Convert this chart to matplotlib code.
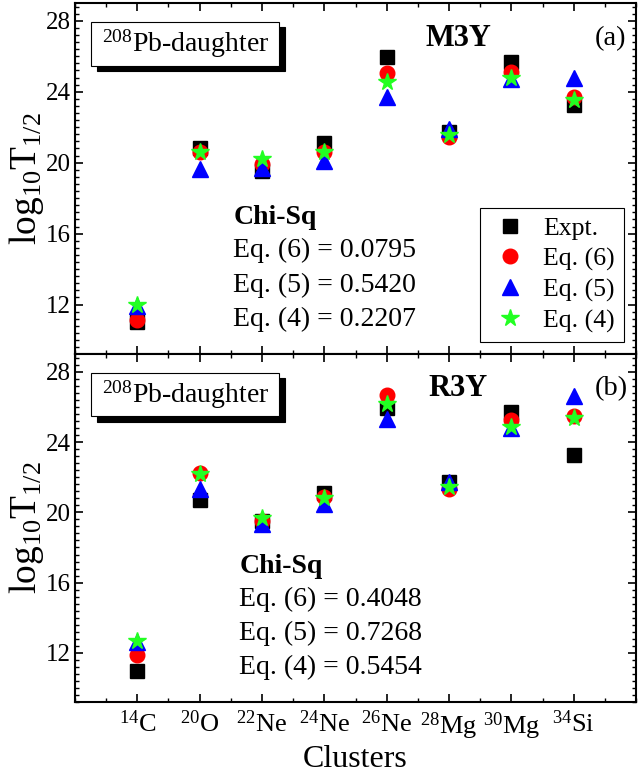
import matplotlib
matplotlib.use("Agg")
from matplotlib import pyplot, transforms
from matplotlib.patches import Rectangle
from matplotlib.ticker import MultipleLocator, FixedLocator

pyplot.rcParams["font.family"] = ["Liberation Serif", "DejaVu Serif"]
pyplot.rcParams["mathtext.fontset"] = "custom"
pyplot.rcParams["mathtext.rm"] = "Liberation Serif"
pyplot.rcParams["mathtext.it"] = "Liberation Serif:italic"
pyplot.rcParams["mathtext.bf"] = "Liberation Serif:bold"

clusters = [r"$^{14}$C", r"$^{20}$O", r"$^{22}$Ne", r"$^{24}$Ne",
            r"$^{26}$Ne", r"$^{28}$Mg", r"$^{30}$Mg", r"$^{34}$Si"]

# M3Y panel
m3y_expt = [11.0, 20.8, 19.55, 21.1, 25.95, 21.75, 25.7, 23.25]
m3y_eq6 = [11.15, 20.6, 19.9, 20.6, 25.05, 21.45, 25.1, 23.7]
m3y_eq5 = [11.9, 19.65, 19.7, 20.1, 23.7, 21.9, 24.7, 24.8]
m3y_eq4 = [11.95, 20.6, 20.2, 20.6, 24.55, 21.55, 24.75, 23.55]
m3y_chi = ["0.0795", "0.5420", "0.2207"]

# R3Y panel
r3y_expt = [11.0, 20.7, 19.5, 21.1, 25.95, 21.75, 25.7, 23.25]
r3y_eq6 = [11.9, 22.25, 19.5, 20.9, 26.65, 21.35, 25.25, 25.5]
r3y_eq5 = [12.6, 21.35, 19.35, 20.5, 25.3, 21.7, 24.8, 26.6]
r3y_eq4 = [12.7, 22.2, 19.7, 20.8, 26.15, 21.45, 24.85, 25.35]
r3y_chi = ["0.4048", "0.7268", "0.5454"]


def label_box(figure, axis, text):
    x0, y0, w, h = 0.029, 0.821, 0.335, 0.126
    shadow = transforms.offset_copy(axis.transAxes, fig=figure, x=4, y=-4, units="points")
    axis.add_patch(Rectangle((x0, y0), w, h, transform=shadow, facecolor="black",
                             edgecolor="black", linewidth=0.8, zorder=5))
    axis.add_patch(Rectangle((x0, y0), w, h, transform=axis.transAxes, facecolor="white",
                             edgecolor="black", linewidth=0.8, zorder=6))
    axis.text(x0 + w / 2, y0 + h / 2, text, transform=axis.transAxes, fontsize=20,
              ha="center", va="center", zorder=7)


def panel(figure, axis, expt, eq6, eq5, eq4, chi, model, tag, show_legend):
    positions = list(range(1, len(clusters) + 1))
    axis.plot(positions, expt, "s", color="black", ms=9.5, label="Expt.", zorder=2)
    axis.plot(positions, eq6, "o", color="red", ms=10.5, label="Eq. (6)", zorder=3)
    axis.plot(positions, eq5, "^", color="blue", ms=11, label="Eq. (5)", zorder=4)
    axis.plot(positions, eq4, "*", color="#22ff22", ms=13, label="Eq. (4)", zorder=5)

    axis.set_xlim(0, 9)
    axis.set_ylim(9.2, 29.0)
    axis.xaxis.set_major_locator(FixedLocator(positions))
    axis.xaxis.set_minor_locator(MultipleLocator(0.5))
    axis.yaxis.set_major_locator(MultipleLocator(4))
    axis.yaxis.set_minor_locator(MultipleLocator(0.4))
    axis.tick_params(which="both", direction="in", top=True, right=True)
    axis.tick_params(axis="y", labelsize=18, pad=3)
    axis.tick_params(axis="x", labelsize=19, pad=6)
    axis.tick_params(which="major", length=6, width=1.2)
    axis.tick_params(which="minor", length=3, width=1.0)
    for spine in axis.spines.values():
        spine.set_linewidth(1.5)
    axis.set_ylabel(r"log$_{10}$T$_{1/2}$", fontsize=27, labelpad=0)

    label_box(figure, axis, r"$^{208}$Pb-daughter")
    axis.text(0.683, 0.90, model, transform=axis.transAxes, fontsize=22,
              fontweight="bold", ha="center", va="center")
    axis.text(0.955, 0.90, tag, transform=axis.transAxes, fontsize=20.5,
              ha="center", va="center")

    x0 = 0.282 if model == "M3Y" else 0.293
    axis.text(x0, 0.39, "Chi-Sq", transform=axis.transAxes, fontsize=20,
              fontweight="bold", va="center")
    for i, (eq, value) in enumerate(zip(["6", "5", "4"], chi)):
        axis.text(x0, 0.295 - i * 0.098, f"Eq. ({eq}) = {value}",
                  transform=axis.transAxes, fontsize=20, va="center")

    if show_legend:
        legend = axis.legend(loc="lower right", bbox_to_anchor=(0.978, 0.035),
                             fontsize=18.5, fancybox=False, edgecolor="black",
                             framealpha=1, handletextpad=0.5, borderpad=0.35,
                             labelspacing=0.3, handlelength=1.6, borderaxespad=0)
        legend.get_frame().set_linewidth(0.8)


def main():
    figure = pyplot.figure(figsize=(6.4, 7.75), dpi=100)
    top = figure.add_axes([0.117, 0.543, 0.877, 0.453])
    bottom = figure.add_axes([0.117, 0.094, 0.877, 0.449])

    panel(figure, top, m3y_expt, m3y_eq6, m3y_eq5, m3y_eq4, m3y_chi, "M3Y", "(a)", True)
    panel(figure, bottom, r3y_expt, r3y_eq6, r3y_eq5, r3y_eq4, r3y_chi, "R3Y", "(b)", False)

    top.set_xticklabels([])
    bottom.set_xticklabels(clusters)
    bottom.set_xlabel("Clusters", fontsize=23, labelpad=2)

    figure.savefig("out.png", dpi=100)


if __name__ == "__main__":
    main()
